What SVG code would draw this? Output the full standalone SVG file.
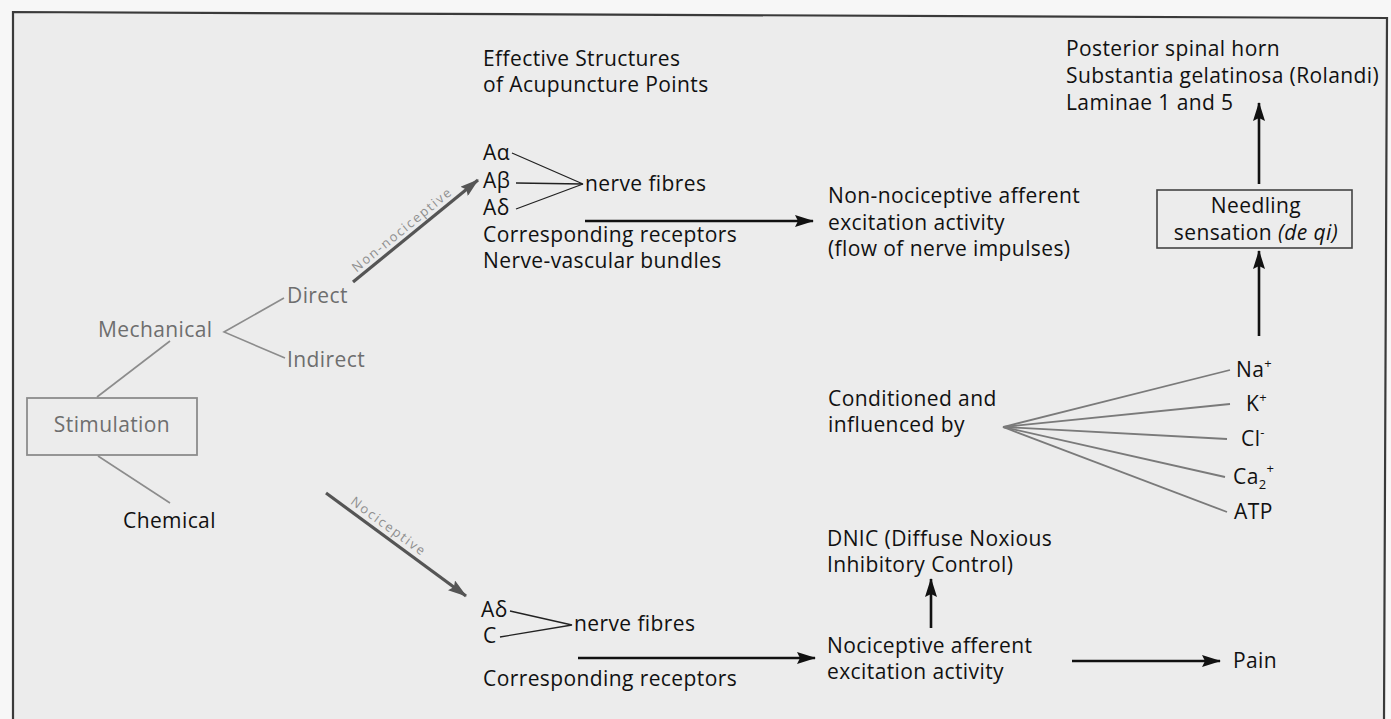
<svg xmlns="http://www.w3.org/2000/svg" width="1391" height="719" viewBox="0 0 1391 719">
<defs>
<style>
text{font-family:"Open Sans","Liberation Sans",sans-serif;font-size:21px;letter-spacing:0.4px;fill:#111}
.g{fill:#6e6e6e}
.lbl{font-size:13px;letter-spacing:1.8px;fill:#8f8f8f}
.thin{stroke:#222;stroke-width:1.3;fill:none}
.gl{stroke:#8c8c8c;stroke-width:1.6;fill:none}
.ar{stroke:#111;stroke-width:2.6;fill:none;marker-end:url(#ah)}
.ga{stroke:#555;stroke-width:3.2;fill:none;marker-end:url(#gh)}
.fan{stroke:#7a7a7a;stroke-width:1.8;fill:none}
</style>
<marker id="ah" markerUnits="userSpaceOnUse" markerWidth="20" markerHeight="12" refX="18" refY="6" orient="auto"><path d="M0,0 L19,6 L0,12 L3,6 Z" fill="#111"/></marker>
<marker id="gh" markerUnits="userSpaceOnUse" markerWidth="20" markerHeight="12" refX="18" refY="6" orient="auto"><path d="M0,0 L19,6 L0,12 L3,6 Z" fill="#555"/></marker>
</defs>
<rect x="0" y="0" width="1391" height="719" fill="#f7f7f7"/>
<path d="M13,719 L13,12 L1387,18 L1384,719 Z" fill="#ececec"/>
<path d="M13,719 L13,12 L1387,18 L1384,719" fill="none" stroke="#3a3a3a" stroke-width="2.2"/>

<g id="connectors">
<line class="gl" x1="97" y1="397" x2="170" y2="341"/>
<line class="gl" x1="98" y1="456" x2="170" y2="503"/>
<polyline class="gl" points="284,298 224,332 285,358"/>
<line class="ga" x1="353" y1="282" x2="478" y2="180"/>
<line class="ga" x1="326" y1="493" x2="466" y2="596"/>
<polyline class="thin" points="512,153 583,184 516,183"/>
<line class="thin" x1="516" y1="209" x2="583" y2="184"/>
<polyline class="thin" points="510,611 572,625 500,637"/>
<line class="ar" x1="585" y1="221" x2="813" y2="221"/>
<line class="ar" x1="578" y1="658" x2="815" y2="658"/>
<line class="ar" x1="1259" y1="184" x2="1259" y2="103"/>
<line class="ar" x1="1259" y1="336" x2="1259" y2="251"/>
<line class="ar" x1="931" y1="628" x2="931" y2="579"/>
<line class="ar" x1="1072" y1="661" x2="1220" y2="661"/>
<line class="fan" x1="1003" y1="427" x2="1230" y2="370"/>
<line class="fan" x1="1003" y1="427" x2="1230" y2="404"/>
<line class="fan" x1="1003" y1="427" x2="1227" y2="439"/>
<line class="fan" x1="1003" y1="427" x2="1225" y2="477"/>
<line class="fan" x1="1003" y1="427" x2="1227" y2="512"/>
<text class="lbl" transform="translate(405,233) rotate(-39.3)" text-anchor="middle">Non-nociceptive</text>
<text class="lbl" transform="translate(386,530) rotate(36.3)" text-anchor="middle">Nociceptive</text>
</g>

<g id="stimulation">
<rect x="27" y="398" width="170" height="57" fill="none" stroke="#8c8c8c" stroke-width="1.8"/>
<text class="g" x="112" y="432" text-anchor="middle">Stimulation</text>
</g>
<g id="mechanical"><text class="g" x="98" y="337">Mechanical</text></g>
<g id="direct"><text class="g" x="287" y="303">Direct</text></g>
<g id="indirect"><text class="g" x="287" y="367">Indirect</text></g>
<g id="chemical"><text x="123" y="528">Chemical</text></g>

<g id="effective-structures">
<text x="483" y="66">Effective Structures</text>
<text x="483" y="92">of Acupuncture Points</text>
<text x="483" y="160">Aα</text>
<text x="483" y="188">Aβ</text>
<text x="483" y="215">Aδ</text>
<text x="585" y="191">nerve fibres</text>
<text x="483" y="242">Corresponding receptors</text>
<text x="483" y="268">Nerve-vascular bundles</text>
</g>

<g id="non-nociceptive-activity">
<text x="828" y="203">Non-nociceptive afferent</text>
<text x="828" y="230">excitation activity</text>
<text x="828" y="256">(flow of nerve impulses)</text>
</g>

<g id="posterior-horn">
<text x="1066" y="56">Posterior spinal horn</text>
<text x="1066" y="83">Substantia gelatinosa (Rolandi)</text>
<text x="1066" y="110">Laminae 1 and 5</text>
</g>

<g id="needling">
<rect x="1157" y="190" width="195" height="58" fill="none" stroke="#444" stroke-width="1.6"/>
<text x="1256" y="213" text-anchor="middle">Needling</text>
<text x="1256" y="240" text-anchor="middle">sensation <tspan font-style="italic">(de qi)</tspan></text>
</g>

<g id="conditioned">
<text x="828" y="406">Conditioned and</text>
<text x="828" y="432">influenced by</text>
</g>

<g id="ions">
<text x="1236" y="377">Na<tspan font-size="13" dy="-9">+</tspan></text>
<text x="1246" y="411">K<tspan font-size="13" dy="-9">+</tspan></text>
<text x="1241" y="446">Cl<tspan font-size="13" dy="-9">-</tspan></text>
<text x="1233" y="484">Ca<tspan font-size="13" dy="5">2</tspan><tspan font-size="13" dy="-16">+</tspan></text>
<text x="1234" y="519">ATP</text>
</g>

<g id="dnic">
<text x="827" y="546">DNIC (Diffuse Noxious</text>
<text x="827" y="572">Inhibitory Control)</text>
</g>

<g id="nociceptive-fibres">
<text x="481" y="617">Aδ</text>
<text x="483" y="643">C</text>
<text x="574" y="631">nerve fibres</text>
<text x="483" y="686">Corresponding receptors</text>
</g>

<g id="nociceptive-activity">
<text x="827" y="653">Nociceptive afferent</text>
<text x="827" y="679">excitation activity</text>
</g>

<g id="pain"><text x="1233" y="668">Pain</text></g>
</svg>
